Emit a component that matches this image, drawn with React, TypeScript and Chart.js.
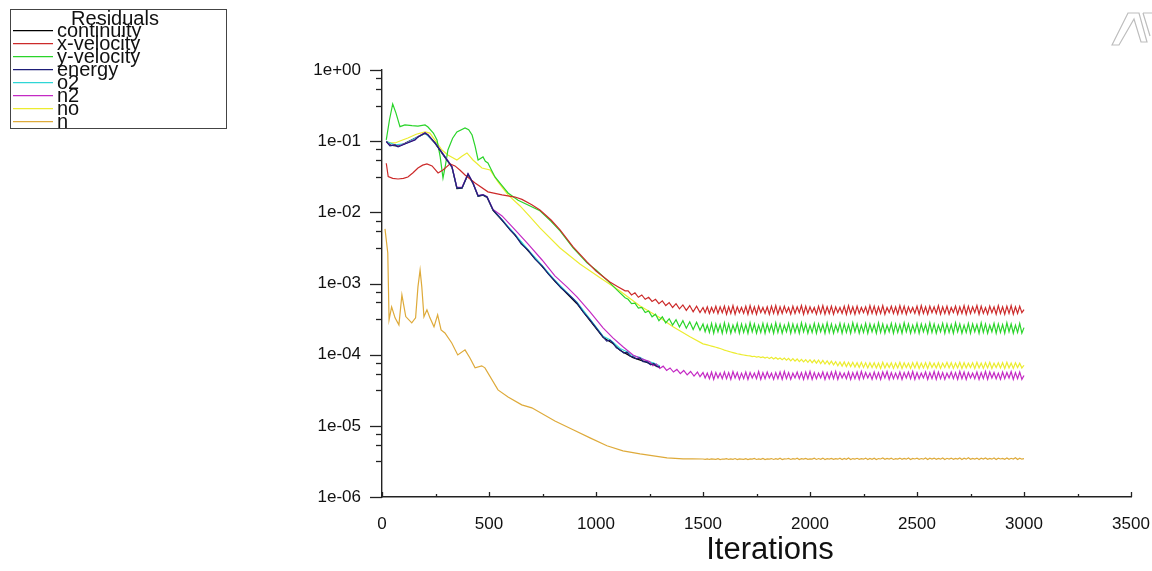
import React, { useEffect, useRef } from 'react';
import { Chart, registerables } from 'chart.js';

Chart.register(...registerables);

const FONT = '"Liberation Sans", Arial, sans-serif';

const SERIES_LABELS = ['continuity', 'x-velocity', 'y-velocity', 'energy', 'o2', 'n2', 'no', 'n'];
const SERIES_COLORS = ['#000000', '#cc2a2a', '#2ad42a', '#1e1e78', '#2ed6d6', '#c42ac4', '#ecec30', '#deaa3a'];
const SERIES_ORDER = [4, 1, 5, 0, 3, 2, 6, 7];

const X_MAJOR_TICKS = [0, 500, 1000, 1500, 2000, 2500, 3000, 3500];
const X_MINOR_TICKS = [250, 750, 1250, 1750, 2250, 2750, 3250];
const X_TITLE = 'Iterations';
const Y_TICK_VALUES = [1e-6, 1e-5, 1e-4, 1e-3, 1e-2, 1e-1, 1];
const Y_TICK_LABELS = ['1e-06', '1e-05', '1e-04', '1e-03', '1e-02', '1e-01', '1e+00'];
const Y_MINOR_DECADE_FRACTIONS = [0.115, 0.265, 0.5];
const LEGEND_TITLE = 'Residuals';

const TAIL_ITER = [
  1500, 1510, 1520, 1530, 1540, 1550, 1560, 1570, 1580, 1590,
  1600, 1610, 1620, 1630, 1640, 1650, 1660, 1670, 1680, 1690,
  1700, 1710, 1720, 1730, 1740, 1750, 1760, 1770, 1780, 1790,
  1800, 1810, 1820, 1830, 1840, 1850, 1860, 1870, 1880, 1890,
  1900, 1910, 1920, 1930, 1940, 1950, 1960, 1970, 1980, 1990,
  2000, 2010, 2020, 2030, 2040, 2050, 2060, 2070, 2080, 2090,
  2100, 2110, 2120, 2130, 2140, 2150, 2160, 2170, 2180, 2190,
  2200, 2210, 2220, 2230, 2240, 2250, 2260, 2270, 2280, 2290,
  2300, 2310, 2320, 2330, 2340, 2350, 2360, 2370, 2380, 2390,
  2400, 2410, 2420, 2430, 2440, 2450, 2460, 2470, 2480, 2490,
  2500, 2510, 2520, 2530, 2540, 2550, 2560, 2570, 2580, 2590,
  2600, 2610, 2620, 2630, 2640, 2650, 2660, 2670, 2680, 2690,
  2700, 2710, 2720, 2730, 2740, 2750, 2760, 2770, 2780, 2790,
  2800, 2810, 2820, 2830, 2840, 2850, 2860, 2870, 2880, 2890,
  2900, 2910, 2920, 2930, 2940, 2950, 2960, 2970, 2980, 2990,
  3000,
];

const CONTINUITY_HEAD: [number, number][] = [
  [20, 0.1], [40, 0.088], [75, 0.085], [107, 0.093], [168, 0.115], [201, 0.128], [215, 0.121],
  [248, 0.093], [294, 0.059], [327, 0.043], [350, 0.0215], [374, 0.0218], [402, 0.034], [425, 0.0255],
  [449, 0.0168], [472, 0.0174], [491, 0.0162], [519, 0.0106], [561, 7.7e-3], [622, 4.75e-3],
  [682, 2.9e-3], [748, 1.74e-3], [808, 1.07e-3], [864, 7.2e-4], [911, 5.2e-4], [972, 3.0e-4],
  [1033, 1.75e-4], [1079, 1.43e-4], [1112, 1.15e-4], [1173, 9.1e-5], [1238, 7.8e-5], [1299, 6.6e-5],
];
const CONTINUITY_TAIL: number[] = [];

const XVEL_HEAD: [number, number][] = [
  [20, 0.049], [29, 0.0317], [50, 0.030], [75, 0.0294], [100, 0.030], [121, 0.0314], [145, 0.036],
  [168, 0.042], [190, 0.046], [210, 0.0479], [234, 0.0449], [262, 0.0357], [285, 0.0394], [318, 0.0479],
  [341, 0.0449], [365, 0.039], [388, 0.0335], [435, 0.0259], [495, 0.0194], [561, 0.0176], [622, 0.0164],
  [654, 0.0152], [700, 0.0128], [738, 0.0108], [790, 0.0078], [832, 5.66e-3], [893, 3.27e-3],
  [958, 2.01e-3], [1000, 1.5e-3], [1065, 1.05e-3], [1100, 9.1e-4], [1136, 7.9e-4],
  [1150, 7.9e-4], [1166, 6.9e-4], [1182, 7.4e-4], [1198, 6.4e-4], [1214, 6.9e-4], [1230, 6.0e-4],
  [1246, 6.4e-4], [1262, 5.6e-4], [1278, 6.0e-4], [1294, 5.2e-4], [1310, 5.7e-4], [1326, 4.9e-4],
  [1342, 5.4e-4], [1358, 4.6e-4], [1374, 5.2e-4], [1390, 4.4e-4], [1406, 5.0e-4], [1422, 4.2e-4],
  [1438, 4.9e-4], [1454, 4.0e-4], [1470, 4.8e-4], [1486, 3.9e-4],
];
const XVEL_TAIL: number[] = [
  4.6e-4, 3.9e-4, 4.7e-4, 3.8e-4, 4.6e-4, 3.9e-4, 4.8e-4, 3.8e-4, 4.7e-4, 3.9e-4,
  4.8e-4, 3.7e-4, 4.7e-4, 3.8e-4, 4.9e-4, 3.7e-4, 4.7e-4, 3.9e-4, 4.6e-4, 3.8e-4,
  4.8e-4, 3.7e-4, 4.9e-4, 3.8e-4, 4.7e-4, 3.7e-4, 4.8e-4, 3.9e-4, 4.6e-4, 3.8e-4,
  4.7e-4, 3.7e-4, 4.8e-4, 3.8e-4, 4.9e-4, 3.7e-4, 4.7e-4, 3.8e-4, 4.8e-4, 3.9e-4,
  4.6e-4, 3.7e-4, 4.8e-4, 3.8e-4, 4.7e-4, 3.9e-4, 4.9e-4, 3.7e-4, 4.8e-4, 3.8e-4,
  4.7e-4, 3.9e-4, 4.6e-4, 3.7e-4, 4.8e-4, 3.8e-4, 4.9e-4, 3.7e-4, 4.7e-4, 3.8e-4,
  4.8e-4, 3.7e-4, 4.7e-4, 3.9e-4, 4.6e-4, 3.8e-4, 4.8e-4, 3.7e-4, 4.9e-4, 3.8e-4,
  4.7e-4, 3.7e-4, 4.8e-4, 3.8e-4, 4.6e-4, 3.9e-4, 4.7e-4, 3.7e-4, 4.9e-4, 3.8e-4,
  4.8e-4, 3.7e-4, 4.7e-4, 3.8e-4, 4.9e-4, 3.7e-4, 4.6e-4, 3.9e-4, 4.8e-4, 3.8e-4,
  4.7e-4, 3.7e-4, 4.9e-4, 3.8e-4, 4.8e-4, 3.7e-4, 4.7e-4, 3.9e-4, 4.6e-4, 3.8e-4,
  4.8e-4, 3.7e-4, 4.9e-4, 3.8e-4, 4.7e-4, 3.7e-4, 4.8e-4, 3.9e-4, 4.7e-4, 3.8e-4,
  4.9e-4, 3.7e-4, 4.7e-4, 3.8e-4, 4.8e-4, 3.7e-4, 4.6e-4, 3.9e-4, 4.8e-4, 3.7e-4,
  4.7e-4, 3.8e-4, 4.9e-4, 3.7e-4, 4.8e-4, 3.8e-4, 4.7e-4, 3.9e-4, 4.9e-4, 3.7e-4,
  4.8e-4, 3.8e-4, 4.6e-4, 3.7e-4, 4.8e-4, 3.9e-4, 4.7e-4, 3.7e-4, 4.9e-4, 3.8e-4,
  4.7e-4, 3.7e-4, 4.8e-4, 3.8e-4, 4.9e-4, 3.7e-4, 4.7e-4, 3.8e-4, 4.8e-4, 3.9e-4,
  4.3e-4,
];

const YVEL_HEAD: [number, number][] = [
  [20, 0.104], [35, 0.2], [50, 0.333], [65, 0.25], [84, 0.16], [107, 0.169], [140, 0.165], [168, 0.163],
  [201, 0.169], [215, 0.158], [240, 0.13], [257, 0.104], [272, 0.06], [285, 0.0304], [296, 0.045],
  [308, 0.0752], [330, 0.11], [350, 0.135], [388, 0.153], [405, 0.145], [421, 0.122], [435, 0.085],
  [449, 0.0544], [472, 0.06], [483, 0.052], [495, 0.0494], [510, 0.04], [528, 0.0314], [560, 0.024],
  [589, 0.0187], [636, 0.0148], [680, 0.0128], [738, 0.0105], [790, 0.0075], [832, 5.48e-3],
  [893, 3.16e-3], [958, 1.95e-3], [1000, 1.55e-3], [1065, 1.02e-3], [1100, 8.0e-4], [1136, 6.3e-4],
  [1150, 6.0e-4], [1166, 5.2e-4], [1182, 5.3e-4], [1198, 4.5e-4], [1214, 4.6e-4], [1230, 3.9e-4],
  [1246, 4.1e-4], [1262, 3.4e-4], [1278, 3.7e-4], [1294, 3.0e-4], [1310, 3.4e-4], [1326, 2.8e-4],
  [1342, 3.2e-4], [1358, 2.6e-4], [1374, 3.1e-4], [1390, 2.45e-4], [1406, 3.0e-4], [1422, 2.35e-4],
  [1438, 2.9e-4], [1454, 2.25e-4], [1470, 2.85e-4], [1486, 2.2e-4],
];
const YVEL_TAIL: number[] = [
  2.7e-4, 2.1e-4, 2.6e-4, 2.05e-4, 2.75e-4, 2.0e-4, 2.7e-4, 2.1e-4, 2.65e-4, 2.0e-4,
  2.8e-4, 2.05e-4, 2.7e-4, 2.0e-4, 2.6e-4, 2.1e-4, 2.75e-4, 2.0e-4, 2.7e-4, 2.05e-4,
  2.65e-4, 2.0e-4, 2.8e-4, 2.1e-4, 2.7e-4, 2.0e-4, 2.6e-4, 2.05e-4, 2.75e-4, 2.0e-4,
  2.7e-4, 2.1e-4, 2.65e-4, 2.0e-4, 2.8e-4, 2.05e-4, 2.7e-4, 2.0e-4, 2.6e-4, 2.1e-4,
  2.75e-4, 2.0e-4, 2.7e-4, 2.05e-4, 2.65e-4, 2.0e-4, 2.8e-4, 2.1e-4, 2.7e-4, 2.0e-4,
  2.6e-4, 2.05e-4, 2.75e-4, 2.0e-4, 2.7e-4, 2.1e-4, 2.65e-4, 2.0e-4, 2.8e-4, 2.05e-4,
  2.7e-4, 2.0e-4, 2.6e-4, 2.1e-4, 2.75e-4, 2.0e-4, 2.7e-4, 2.05e-4, 2.65e-4, 2.0e-4,
  2.8e-4, 2.1e-4, 2.7e-4, 2.0e-4, 2.6e-4, 2.05e-4, 2.75e-4, 2.0e-4, 2.7e-4, 2.1e-4,
  2.65e-4, 2.0e-4, 2.8e-4, 2.05e-4, 2.7e-4, 2.0e-4, 2.6e-4, 2.1e-4, 2.75e-4, 2.0e-4,
  2.7e-4, 2.05e-4, 2.65e-4, 2.0e-4, 2.8e-4, 2.1e-4, 2.7e-4, 2.0e-4, 2.6e-4, 2.05e-4,
  2.75e-4, 2.0e-4, 2.7e-4, 2.1e-4, 2.65e-4, 2.0e-4, 2.8e-4, 2.05e-4, 2.7e-4, 2.0e-4,
  2.6e-4, 2.1e-4, 2.75e-4, 2.0e-4, 2.7e-4, 2.05e-4, 2.65e-4, 2.0e-4, 2.8e-4, 2.1e-4,
  2.7e-4, 2.0e-4, 2.6e-4, 2.05e-4, 2.75e-4, 2.0e-4, 2.7e-4, 2.1e-4, 2.65e-4, 2.0e-4,
  2.8e-4, 2.05e-4, 2.7e-4, 2.0e-4, 2.6e-4, 2.1e-4, 2.75e-4, 2.0e-4, 2.7e-4, 2.05e-4,
  2.65e-4, 2.0e-4, 2.8e-4, 2.1e-4, 2.7e-4, 2.0e-4, 2.6e-4, 2.05e-4, 2.75e-4, 2.0e-4,
  2.4e-4,
];

const ENERGY_HEAD: [number, number][] = [
  [20, 0.0984], [37, 0.0857], [61, 0.0885], [75, 0.083], [107, 0.0914], [154, 0.104], [168, 0.1146],
  [201, 0.130], [215, 0.122], [248, 0.0944], [294, 0.06], [327, 0.0434], [350, 0.022], [374, 0.022],
  [402, 0.0346], [425, 0.0259], [449, 0.017], [472, 0.0176], [491, 0.0164], [519, 0.0108],
  [561, 7.82e-3], [600, 5.6e-3], [622, 4.82e-3], [650, 3.6e-3], [682, 2.96e-3], [715, 2.2e-3],
  [748, 1.77e-3], [778, 1.35e-3], [808, 1.09e-3], [836, 8.7e-4], [864, 7.38e-4], [890, 6.2e-4],
  [911, 5.34e-4], [940, 4.0e-4], [972, 3.08e-4], [1000, 2.4e-4], [1033, 1.78e-4], [1050, 1.55e-4],
  [1065, 1.6e-4], [1079, 1.46e-4], [1095, 1.25e-4], [1112, 1.17e-4], [1130, 1.05e-4], [1145, 1.08e-4],
  [1160, 9.5e-5], [1173, 9.3e-5], [1190, 8.7e-5], [1205, 9.0e-5], [1220, 8.0e-5], [1238, 7.9e-5],
  [1255, 7.2e-5], [1270, 7.5e-5], [1285, 6.8e-5], [1299, 6.74e-5],
];
const ENERGY_TAIL: number[] = [];

const O2_HEAD: [number, number][] = [
  [20, 0.099], [61, 0.089], [107, 0.092], [168, 0.115], [201, 0.13], [248, 0.095], [294, 0.06],
  [327, 0.044], [350, 0.0222], [374, 0.0222], [402, 0.0348], [425, 0.026], [449, 0.0171], [472, 0.0177],
  [491, 0.0165], [519, 0.0109], [561, 7.9e-3], [622, 4.9e-3], [682, 3.0e-3], [748, 1.8e-3],
  [808, 1.11e-3], [864, 7.5e-4], [911, 5.45e-4], [972, 3.15e-4], [1033, 1.82e-4], [1065, 1.62e-4],
  [1079, 1.5e-4], [1112, 1.22e-4], [1145, 1.1e-4], [1173, 9.6e-5], [1205, 9.2e-5], [1238, 8.1e-5],
  [1270, 7.6e-5], [1299, 6.9e-5],
];
const O2_TAIL: number[] = [];

const N2_HEAD: [number, number][] = [
  [20, 0.0984], [37, 0.087], [61, 0.089], [75, 0.084], [107, 0.092], [154, 0.105], [168, 0.115],
  [201, 0.131], [215, 0.123], [248, 0.095], [294, 0.061], [327, 0.044], [350, 0.0225], [374, 0.0225],
  [402, 0.035], [425, 0.026], [449, 0.0172], [472, 0.0178], [491, 0.0166], [519, 0.011], [561, 8.9e-3],
  [622, 5.66e-3], [682, 3.6e-3], [748, 2.14e-3], [808, 1.28e-3], [864, 8.96e-4], [911, 6.48e-4],
  [972, 3.99e-4], [1033, 2.38e-4], [1079, 1.72e-4], [1126, 1.29e-4], [1173, 9.9e-5], [1210, 8.8e-5],
  [1250, 8.0e-5], [1266, 7.0e-5], [1282, 7.4e-5], [1298, 6.4e-5], [1314, 6.9e-5], [1330, 6.0e-5],
  [1346, 6.5e-5], [1362, 5.7e-5], [1378, 6.2e-5], [1394, 5.4e-5], [1410, 6.0e-5], [1426, 5.2e-5],
  [1442, 5.8e-5], [1458, 5.0e-5], [1474, 5.7e-5], [1486, 4.9e-5],
];
const N2_TAIL: number[] = [
  5.6e-5, 4.7e-5, 5.5e-5, 4.6e-5, 5.7e-5, 4.5e-5, 5.6e-5, 4.7e-5, 5.5e-5, 4.6e-5,
  5.7e-5, 4.6e-5, 5.6e-5, 4.5e-5, 5.8e-5, 4.7e-5, 5.6e-5, 4.5e-5, 5.5e-5, 4.6e-5,
  5.7e-5, 4.5e-5, 5.6e-5, 4.7e-5, 5.5e-5, 4.6e-5, 5.8e-5, 4.5e-5, 5.6e-5, 4.6e-5,
  5.7e-5, 4.7e-5, 5.5e-5, 4.5e-5, 5.6e-5, 4.6e-5, 5.7e-5, 4.5e-5, 5.8e-5, 4.6e-5,
  5.6e-5, 4.5e-5, 5.5e-5, 4.7e-5, 5.7e-5, 4.6e-5, 5.6e-5, 4.5e-5, 5.7e-5, 4.6e-5,
  5.8e-5, 4.5e-5, 5.6e-5, 4.6e-5, 5.5e-5, 4.7e-5, 5.7e-5, 4.5e-5, 5.6e-5, 4.6e-5,
  5.7e-5, 4.6e-5, 5.8e-5, 4.5e-5, 5.6e-5, 4.7e-5, 5.5e-5, 4.6e-5, 5.7e-5, 4.5e-5,
  5.6e-5, 4.6e-5, 5.7e-5, 4.5e-5, 5.8e-5, 4.6e-5, 5.6e-5, 4.7e-5, 5.5e-5, 4.5e-5,
  5.7e-5, 4.6e-5, 5.6e-5, 4.5e-5, 5.7e-5, 4.7e-5, 5.8e-5, 4.5e-5, 5.6e-5, 4.6e-5,
  5.5e-5, 4.6e-5, 5.7e-5, 4.5e-5, 5.6e-5, 4.7e-5, 5.7e-5, 4.6e-5, 5.8e-5, 4.5e-5,
  5.6e-5, 4.6e-5, 5.5e-5, 4.7e-5, 5.7e-5, 4.5e-5, 5.6e-5, 4.6e-5, 5.8e-5, 4.5e-5,
  5.7e-5, 4.6e-5, 5.6e-5, 4.5e-5, 5.5e-5, 4.7e-5, 5.7e-5, 4.6e-5, 5.6e-5, 4.5e-5,
  5.8e-5, 4.6e-5, 5.7e-5, 4.5e-5, 5.6e-5, 4.7e-5, 5.5e-5, 4.6e-5, 5.7e-5, 4.5e-5,
  5.6e-5, 4.6e-5, 5.8e-5, 4.5e-5, 5.7e-5, 4.7e-5, 5.6e-5, 4.6e-5, 5.5e-5, 4.5e-5,
  5.7e-5, 4.6e-5, 5.6e-5, 4.7e-5, 5.8e-5, 4.5e-5, 5.6e-5, 4.6e-5, 5.7e-5, 4.5e-5,
  5.1e-5,
];

const NO_HEAD: [number, number][] = [
  [20, 0.0984], [40, 0.095], [61, 0.0944], [90, 0.102], [121, 0.111], [160, 0.125], [201, 0.135],
  [224, 0.130], [257, 0.0944], [280, 0.075], [308, 0.064], [350, 0.0544], [375, 0.062], [397, 0.0683],
  [425, 0.0544], [467, 0.042], [505, 0.0394], [542, 0.0267], [589, 0.0176], [645, 0.0123], [690, 0.0088],
  [738, 6.04e-3], [832, 3.16e-3], [925, 1.88e-3], [1019, 1.2e-3], [1112, 7.87e-4], [1206, 4.84e-4],
  [1299, 3.29e-4], [1360, 2.46e-4], [1439, 1.78e-4],
];
const NO_TAIL: number[] = [
  1.42e-4, 1.395e-4, 1.37e-4, 1.345e-4, 1.32e-4, 1.295e-4, 1.27e-4, 1.245e-4, 1.22e-4, 1.19e-4,
  1.16e-4, 1.135e-4, 1.11e-4, 1.09e-4, 1.07e-4, 1.05e-4, 1.03e-4, 1.015e-4, 1.0e-4, 9.9e-5,
  9.8e-5, 9.65e-5, 9.6e-5, 9.4e-5, 9.5e-5, 9.25e-5, 9.4e-5, 9.1e-5, 9.3e-5, 8.95e-5,
  9.25e-5, 8.8e-5, 9.2e-5, 8.7e-5, 9.1e-5, 8.6e-5, 9.0e-5, 8.5e-5, 8.95e-5, 8.35e-5,
  8.9e-5, 8.2e-5, 8.8e-5, 8.1e-5, 8.7e-5, 8.0e-5, 8.6e-5, 7.9e-5, 8.5e-5, 7.8e-5,
  8.5e-5, 7.7e-5, 8.4e-5, 7.6e-5, 8.4e-5, 7.5e-5, 8.3e-5, 7.4e-5, 8.2e-5, 7.3e-5,
  8.1e-5, 7.2e-5, 8.0e-5, 7.0e-5, 7.9e-5, 6.9e-5, 7.9e-5, 6.8e-5, 7.8e-5, 6.8e-5,
  7.8e-5, 6.7e-5, 7.7e-5, 6.6e-5, 7.8e-5, 6.6e-5, 7.7e-5, 6.5e-5, 7.7e-5, 6.6e-5,
  7.7e-5, 6.5e-5, 7.6e-5, 6.4e-5, 7.8e-5, 6.5e-5, 7.6e-5, 6.6e-5, 7.7e-5, 6.4e-5,
  7.6e-5, 6.5e-5, 7.8e-5, 6.4e-5, 7.7e-5, 6.6e-5, 7.6e-5, 6.4e-5, 7.7e-5, 6.5e-5,
  7.8e-5, 6.4e-5, 7.6e-5, 6.5e-5, 7.7e-5, 6.4e-5, 7.8e-5, 6.6e-5, 7.6e-5, 6.5e-5,
  7.7e-5, 6.4e-5, 7.6e-5, 6.6e-5, 7.8e-5, 6.5e-5, 7.7e-5, 6.4e-5, 7.6e-5, 6.5e-5,
  7.8e-5, 6.4e-5, 7.7e-5, 6.5e-5, 7.6e-5, 6.6e-5, 7.7e-5, 6.4e-5, 7.8e-5, 6.5e-5,
  7.6e-5, 6.4e-5, 7.7e-5, 6.5e-5, 7.8e-5, 6.4e-5, 7.6e-5, 6.6e-5, 7.7e-5, 6.5e-5,
  7.7e-5, 6.4e-5, 7.8e-5, 6.5e-5, 7.6e-5, 6.4e-5, 7.7e-5, 6.6e-5, 7.6e-5, 6.5e-5,
  7.1e-5,
];

const N_HEAD: [number, number][] = [
  [14, 5.85e-3], [27, 2.69e-3], [33, 3.08e-4], [45, 4.69e-4], [61, 3.29e-4], [79, 2.62e-4],
  [93, 6.92e-4], [111, 3.43e-4], [139, 2.8e-4], [157, 3.29e-4], [168, 8.96e-4], [178, 1.55e-3],
  [186, 8.96e-4], [196, 3.4e-4], [210, 4.26e-4], [224, 3.29e-4], [243, 2.46e-4], [260, 3.62e-4],
  [276, 2.23e-4], [294, 2.02e-4], [326, 1.46e-4], [354, 9.9e-5], [388, 1.17e-4], [411, 9.0e-5],
  [435, 6.53e-5], [466, 6.97e-5], [481, 6.53e-5], [542, 3.2e-5], [589, 2.55e-5], [653, 1.97e-5],
  [700, 1.79e-5], [808, 1.17e-5], [893, 8.8e-6], [972, 6.78e-6], [1051, 5.24e-6], [1126, 4.45e-6],
  [1206, 4.04e-6], [1332, 3.55e-6], [1407, 3.44e-6], [1450, 3.43e-6],
];
const N_TAIL: number[] = [
  3.42e-6, 3.39e-6, 3.44e-6, 3.37e-6, 3.43e-6, 3.41e-6, 3.38e-6, 3.45e-6, 3.36e-6, 3.42e-6,
  3.4e-6, 3.46e-6, 3.37e-6, 3.43e-6, 3.39e-6, 3.47e-6, 3.35e-6, 3.44e-6, 3.41e-6, 3.38e-6,
  3.46e-6, 3.36e-6, 3.43e-6, 3.4e-6, 3.48e-6, 3.37e-6, 3.44e-6, 3.39e-6, 3.49e-6, 3.36e-6,
  3.43e-6, 3.41e-6, 3.47e-6, 3.37e-6, 3.45e-6, 3.39e-6, 3.5e-6, 3.36e-6, 3.44e-6, 3.42e-6,
  3.48e-6, 3.37e-6, 3.46e-6, 3.4e-6, 3.51e-6, 3.36e-6, 3.45e-6, 3.41e-6, 3.49e-6, 3.38e-6,
  3.44e-6, 3.4e-6, 3.5e-6, 3.37e-6, 3.47e-6, 3.39e-6, 3.52e-6, 3.36e-6, 3.46e-6, 3.41e-6,
  3.49e-6, 3.38e-6, 3.45e-6, 3.4e-6, 3.51e-6, 3.37e-6, 3.48e-6, 3.39e-6, 3.53e-6, 3.36e-6,
  3.47e-6, 3.41e-6, 3.5e-6, 3.38e-6, 3.46e-6, 3.4e-6, 3.52e-6, 3.37e-6, 3.49e-6, 3.39e-6,
  3.51e-6, 3.36e-6, 3.47e-6, 3.42e-6, 3.53e-6, 3.38e-6, 3.48e-6, 3.4e-6, 3.5e-6, 3.37e-6,
  3.46e-6, 3.41e-6, 3.52e-6, 3.38e-6, 3.49e-6, 3.4e-6, 3.54e-6, 3.37e-6, 3.48e-6, 3.42e-6,
  3.51e-6, 3.38e-6, 3.47e-6, 3.4e-6, 3.53e-6, 3.37e-6, 3.5e-6, 3.41e-6, 3.52e-6, 3.38e-6,
  3.48e-6, 3.4e-6, 3.54e-6, 3.37e-6, 3.5e-6, 3.42e-6, 3.52e-6, 3.38e-6, 3.49e-6, 3.41e-6,
  3.53e-6, 3.37e-6, 3.5e-6, 3.4e-6, 3.55e-6, 3.38e-6, 3.48e-6, 3.42e-6, 3.52e-6, 3.37e-6,
  3.5e-6, 3.41e-6, 3.54e-6, 3.38e-6, 3.49e-6, 3.4e-6, 3.53e-6, 3.37e-6, 3.51e-6, 3.42e-6,
  3.48e-6, 3.39e-6, 3.53e-6, 3.38e-6, 3.5e-6, 3.41e-6, 3.55e-6, 3.37e-6, 3.51e-6, 3.4e-6,
  3.46e-6,
];

const SERIES_HEADS = [CONTINUITY_HEAD, XVEL_HEAD, YVEL_HEAD, ENERGY_HEAD, O2_HEAD, N2_HEAD, NO_HEAD, N_HEAD];
const SERIES_TAILS = [CONTINUITY_TAIL, XVEL_TAIL, YVEL_TAIL, ENERGY_TAIL, O2_TAIL, N2_TAIL, NO_TAIL, N_TAIL];

function buildPoints(head: [number, number][], tail: number[]) {
  const pts = head.map(([x, y]) => ({ x, y }));
  tail.forEach((y, i) => pts.push({ x: TAIL_ITER[i], y }));
  return pts;
}

const decorPlugin = {
  id: 'fluentDecor',
  afterDraw(chart: any) {
    const ctx: CanvasRenderingContext2D = chart.ctx;
    const xs = chart.scales.x;
    const ys = chart.scales.y;
    const { left, bottom } = chart.chartArea;
    ctx.save();
    ctx.strokeStyle = '#222';
    ctx.lineWidth = 1.3;
    const seg = (x1: number, y1: number, x2: number, y2: number) => {
      ctx.beginPath();
      ctx.moveTo(x1, y1);
      ctx.lineTo(x2, y2);
      ctx.stroke();
    };
    Y_TICK_VALUES.forEach((v) => {
      const py = Math.round(ys.getPixelForValue(v)) + 0.5;
      seg(left - 12, py, left, py);
    });
    for (let k = 1; k < Y_TICK_VALUES.length; k++) {
      Y_MINOR_DECADE_FRACTIONS.forEach((f) => {
        const v = Y_TICK_VALUES[k] * Math.pow(10, -f);
        const py = Math.round(ys.getPixelForValue(v)) + 0.5;
        seg(left - 6, py, left, py);
      });
    }
    X_MAJOR_TICKS.forEach((v) => {
      const px = Math.round(xs.getPixelForValue(v)) + 0.5;
      seg(px, bottom, px, bottom - 5);
    });
    X_MINOR_TICKS.forEach((v) => {
      const px = Math.round(xs.getPixelForValue(v)) + 0.5;
      seg(px, bottom, px, bottom - 3);
    });

    // axis title
    ctx.fillStyle = '#111';
    ctx.font = `31px ${FONT}`;
    ctx.textAlign = 'center';
    ctx.textBaseline = 'middle';
    ctx.fillText(X_TITLE, 770, 550);

    // Legend box
    ctx.strokeStyle = '#444';
    ctx.lineWidth = 1;
    ctx.strokeRect(10.5, 9.5, 216, 119);
    ctx.fillStyle = '#111';
    ctx.font = `20px ${FONT}`;
    ctx.textAlign = 'center';
    ctx.textBaseline = 'alphabetic';
    ctx.fillText(LEGEND_TITLE, 115, 25);
    ctx.textAlign = 'left';
    chart.data.datasets.forEach((ds: any, i: number) => {
      const ly = 30.7 + i * 13;
      ctx.strokeStyle = ds.borderColor;
      ctx.lineWidth = 1.2;
      seg(13, ly, 53, ly);
      ctx.fillStyle = '#111';
      ctx.fillText(ds.label, 57, ly + 6.6);
    });

    // logo outline (partially visible, top-right)
    ctx.strokeStyle = '#bdbdbd';
    ctx.lineWidth = 1.2;
    ctx.beginPath();
    ctx.moveTo(1112, 45);
    ctx.lineTo(1128, 13);
    ctx.lineTo(1139, 13);
    ctx.lineTo(1147, 42);
    ctx.lineTo(1141, 42);
    ctx.lineTo(1134, 19);
    ctx.lineTo(1119, 45);
    ctx.closePath();
    ctx.stroke();
    ctx.beginPath();
    ctx.moveTo(1143, 13);
    ctx.lineTo(1152, 13);
    ctx.moveTo(1143, 13);
    ctx.lineTo(1150, 36);
    ctx.stroke();
    ctx.restore();
  },
};

export default function App() {
  const ref = useRef<HTMLCanvasElement | null>(null);
  useEffect(() => {
    if (!ref.current) return;
    const datasets = SERIES_LABELS.map((label, i) => ({
      label,
      data: buildPoints(SERIES_HEADS[i], SERIES_TAILS[i]),
      borderColor: SERIES_COLORS[i],
      backgroundColor: SERIES_COLORS[i],
      borderWidth: 1.2,
      pointRadius: 0,
      tension: 0,
      fill: false,
      order: SERIES_ORDER[i],
    }));
    const chart = new Chart(ref.current, {
      type: 'line',
      data: { datasets },
      plugins: [decorPlugin],
      options: {
        responsive: false,
        animation: false,
        devicePixelRatio: 1,
        layout: { padding: { left: 0, top: 70, right: 21, bottom: 0 } },
        plugins: { legend: { display: false }, tooltip: { enabled: false } },
        scales: {
          x: {
            type: 'linear',
            min: 0,
            max: 3500,
            afterFit: (s: any) => { s.height = 74; },
            afterBuildTicks: (s: any) => { s.ticks = X_MAJOR_TICKS.map((value) => ({ value })); },
            ticks: {
              autoSkip: false,
              maxRotation: 0,
              padding: 0,
              color: '#111',
              font: { family: FONT, size: 17 },
              callback: (v: any) => String(v),
            },
            grid: { display: false, drawTicks: true, tickLength: 17 },
            border: { display: true, color: '#222', width: 1.4 },
          },
          y: {
            type: 'logarithmic',
            min: 1e-6,
            max: 1,
            afterFit: (s: any) => { s.width = 382; },
            afterBuildTicks: (s: any) => { s.ticks = Y_TICK_VALUES.map((value) => ({ value })); },
            ticks: {
              autoSkip: false,
              padding: 21,
              color: '#111',
              font: { family: FONT, size: 17 },
              callback: (_v: any, idx: number) => Y_TICK_LABELS[idx],
            },
            grid: { display: false, drawTicks: false },
            border: { display: true, color: '#222', width: 1.4 },
          },
        },
      },
    });
    return () => chart.destroy();
  }, []);
  return (
    <div style={{ position: 'fixed', left: 0, top: 0, width: 1152, height: 571, background: '#fff' }}>
      <canvas ref={ref} width={1152} height={571} style={{ display: 'block' }} />
    </div>
  );
}
